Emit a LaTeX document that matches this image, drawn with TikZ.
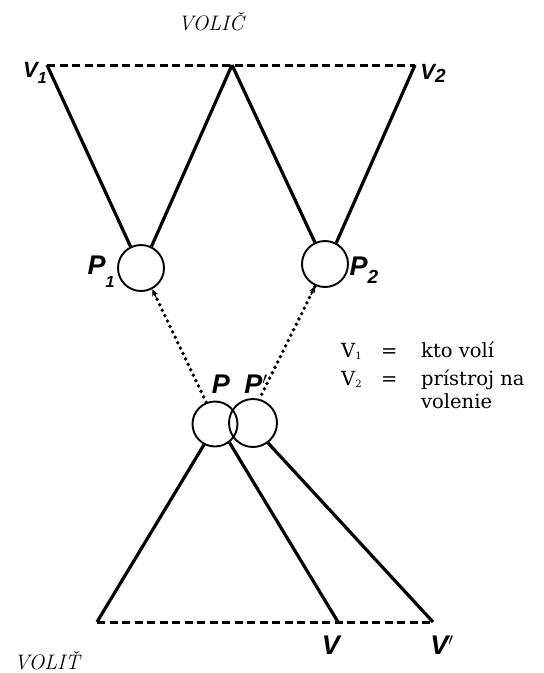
\documentclass[tikz,border=0pt]{standalone}
\usepackage{fontspec}
\setsansfont{Liberation Sans}
\newfontfamily\legendfont{DejaVu Serif}
\usetikzlibrary{arrows.meta,calc}
\begin{document}
\begin{tikzpicture}[x=1pt,y=-1pt,
  bar/.style={line width=3.2pt},
  dashline/.style={line width=3pt, dash pattern=on 8pt off 4.5pt},
  dotline/.style={line width=3.8pt, dash pattern=on 0pt off 6pt, line cap=round},
  ring/.style={circle, draw, line width=1.9pt, inner sep=0pt, minimum size=46pt},
  hand/.style={font=\sffamily\bfseries\itshape\fontsize{27}{27}\selectfont, inner sep=0pt},
  handsmall/.style={font=\sffamily\bfseries\itshape\fontsize{22}{22}\selectfont, inner sep=0pt},
  title/.style={font=\itshape\fontsize{21}{21}\selectfont, inner sep=0pt},
  legend/.style={font=\legendfont\fontsize{19.5}{20}\selectfont, inner sep=0pt, anchor=base west}]
\useasboundingbox (0,0) rectangle (544,673);

% upper triangle: V1 -- apex -- V2
\coordinate (v1) at (47,65);
\coordinate (apex) at (232,65);
\coordinate (v2) at (415,65);
\node[ring] (p1) at (141,268) {};
\node[ring] (p2) at (325,264) {};
\draw[dashline] (v1) -- (v2);
\draw[bar] (v1) -- (p1.116);
\draw[bar] (apex) -- (p1.64);
\draw[bar] (apex) -- (p2.115);
\draw[bar] (v2) -- (p2.62);

% lower part: the two overlapping rings P, P'
\node[ring, minimum size=45pt] (p) at (215,424) {};
\node[ring, minimum size=48pt] (pp) at (253,423) {};
\coordinate (w0) at (97,622);
\coordinate (w) at (338,622);
\coordinate (wp) at (433,622);
\draw[dashline] (w0) -- (wp);
\draw[bar] (w0) -- (p.-118);
\draw[bar] (p.-52) -- (w);
\draw[bar] (pp.-53) -- (wp);

% dotted links towards P1 and P2
\draw[dotline] (p.112) -- (p1.-62);
\draw[-{Stealth[length=7pt,width=6pt]}, line width=1pt] ($(p1.-62)!0.08!(p.112)$) -- (p1.-62);
\draw[dotline] ($(pp.72)+(1,-5)$) -- (p2.-114);
\draw[-{Stealth[length=7pt,width=6pt]}, line width=1pt] ($(p2.-114)!0.08!(pp.72)$) -- (p2.-114);

% labels
\node[title] (tvolic) at (211,22) {VOLIČ};
\node[title] (tvolit) at (47,661) {VOLIŤ};
\node[handsmall] (lv1) at (35,73) {V\raisebox{-0.45ex}{\fontsize{16}{16}\selectfont 1}};
\node[handsmall] (lv2) at (433,73) {V\raisebox{-0.25ex}{\fontsize{19}{19}\selectfont 2}};
\node[hand] (lp1) at (101,272) {P\raisebox{-0.9ex}{\fontsize{16}{16}\selectfont 1}};
\node[hand] (lp2) at (364,270) {P\raisebox{-0.6ex}{\fontsize{19}{19}\selectfont 2}};
\node[hand] (lp) at (221,384) {P};
\node[hand] (lpp) at (256,384) {P$'$};
\node[hand] (lw) at (331,645) {V};
\node[hand] (lwp) at (442,645) {V$'$};

% legend
\node[legend] (k1) at (341,357) {V\raisebox{-0.2ex}{\fontsize{10}{10}\selectfont 1}};
\node[legend] (e1) at (381,357) {=};
\node[legend] (t1) at (421,357) {kto volí};
\node[legend] (k2) at (341,385) {V\raisebox{-0.2ex}{\fontsize{10}{10}\selectfont 2}};
\node[legend] (e2) at (381,385) {=};
\node[legend] (t2) at (421,385) {prístroj na};
\node[legend] (t3) at (421,408) {volenie};
\end{tikzpicture}
\end{document}
